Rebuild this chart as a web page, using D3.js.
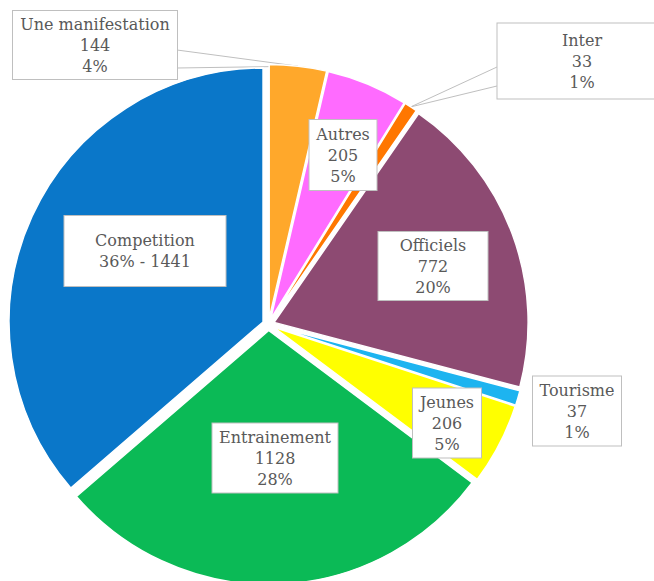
<!DOCTYPE html>
<html>
<head>
<meta charset="utf-8">
<script src="https://cdn.jsdelivr.net/npm/d3@7"></script>
<style>
  html, body { margin: 0; padding: 0; background: #fff; }
  svg { display: block; }
</style>
</head>
<body>
<svg id="chart" width="654" height="581"></svg>
<script>
const categories = ["Une manifestation", "Autres", "Inter", "Officiels", "Tourisme", "Jeunes", "Entrainement", "Competition"];
const values = [144, 205, 33, 772, 37, 206, 1128, 1441];
const percentLabels = ["4%", "5%", "1%", "20%", "1%", "5%", "28%", "36%"];
const colors = ["#FFA82B", "#FF6BFF", "#FF7700", "#8D4A72", "#1DB4F0", "#FFFF00", "#0BBA56", "#0A77C9"];

// label box layout (center x, center y, width, height)
const labelLayout = [
  { cx: 95, cy: 45, w: 165, h: 69, callout: [[177, 50], [177, 68]] },
  { cx: 343, cy: 155, w: 68, h: 71 },
  { cx: 582, cy: 61, w: 170, h: 76, callout: [[497, 67], [497, 86]] },
  { cx: 433, cy: 266, w: 110, h: 69 },
  { cx: 577, cy: 411, w: 89, h: 70 },
  { cx: 447, cy: 423, w: 69, h: 70 },
  { cx: 275, cy: 458, w: 126, h: 70 },
  { cx: 145, cy: 251, w: 162, h: 71 }
];

const svg = d3.select("#chart");
const cx = 268.5, cy = 324.5, R = 254, explode = 6;

const pie = d3.pie().sort(null).value(d => d);
const arcs = pie(values);
const arc = d3.arc().innerRadius(0).outerRadius(R);

// callout leader lines (behind the pie)
const leaderG = svg.append("g");
arcs.forEach((d, i) => {
  const L = labelLayout[i];
  if (!L.callout) return;
  const m = (d.startAngle + d.endAngle) / 2;
  const tx = cx + (explode + R) * Math.sin(m);
  const ty = cy - (explode + R) * Math.cos(m);
  L.callout.forEach(p => {
    leaderG.append("line")
      .attr("x1", p[0]).attr("y1", p[1])
      .attr("x2", tx).attr("y2", ty)
      .attr("stroke", "#BFBFBF").attr("stroke-width", 1);
  });
});

const g = svg.append("g").attr("transform", `translate(${cx},${cy})`);

g.selectAll("path.slice")
  .data(arcs)
  .join("path")
  .attr("class", "slice")
  .attr("transform", d => {
    const m = (d.startAngle + d.endAngle) / 2;
    return `translate(${explode * Math.sin(m)},${-explode * Math.cos(m)})`;
  })
  .attr("d", arc)
  .attr("fill", (d, i) => colors[i])
  .attr("stroke", "#fff")
  .attr("stroke-width", 1.5);

// labels
const labelG = svg.append("g");
arcs.forEach((d, i) => {
  const L = labelLayout[i];
  labelG.append("rect")
    .attr("x", L.cx - L.w / 2).attr("y", L.cy - L.h / 2)
    .attr("width", L.w).attr("height", L.h)
    .attr("fill", "#fff").attr("stroke", "#BFBFBF").attr("stroke-width", 1);
  const lines = categories[i] === "Competition"
    ? [categories[i], `${percentLabels[i]} - ${values[i]}`]
    : [categories[i], String(values[i]), percentLabels[i]];
  const n = lines.length;
  lines.forEach((t, k) => {
    labelG.append("text")
      .attr("x", L.cx)
      .attr("y", L.cy + (k - (n - 1) / 2) * 21)
      .attr("text-anchor", "middle")
      .attr("dominant-baseline", "central")
      .attr("font-family", "'DejaVu Serif', serif")
      .attr("font-size", 16)
      .attr("fill", "#595959")
      .text(t);
  });
});
</script>
</body>
</html>
